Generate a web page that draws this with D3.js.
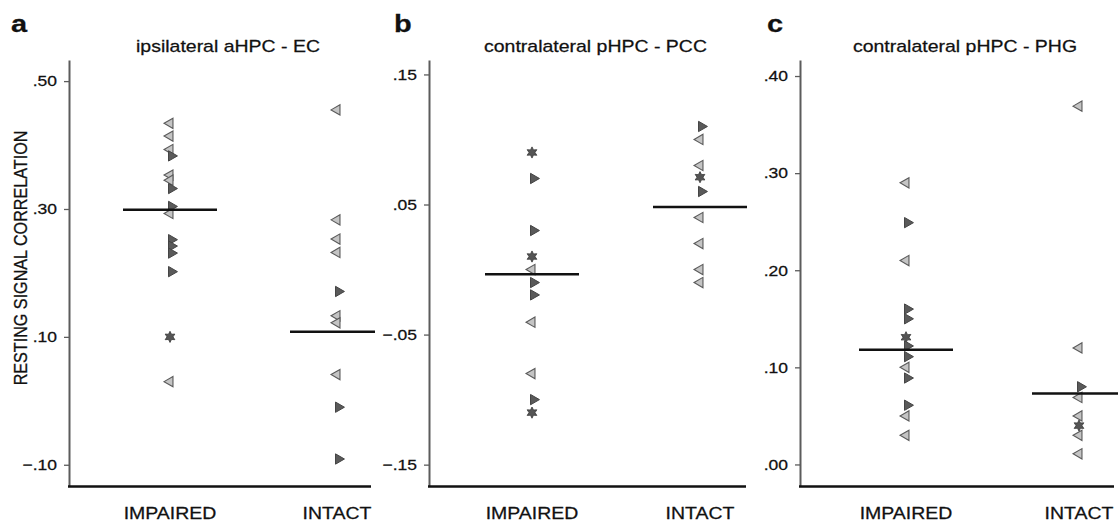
<!DOCTYPE html>
<html><head><meta charset="utf-8">
<script src="https://cdn.jsdelivr.net/npm/d3@7/dist/d3.min.js"></script>
<style>
html,body{margin:0;padding:0;background:#fff;}
svg{display:block;font-family:"Liberation Sans",Arial,Helvetica,sans-serif;}
svg text{stroke:#111;stroke-width:0.3px;fill:#111;}
</style></head>
<body>
<svg id="chart" width="1118" height="525"></svg>
<script>
// ---------- DATA ----------
const categories = ["IMPAIRED", "INTACT"];
const panelLetters = ["a", "b", "c"];
const panelTitles = ["ipsilateral aHPC - EC", "contralateral pHPC - PCC", "contralateral pHPC - PHG"];
const yAxisLabel = "RESTING SIGNAL CORRELATION";

// y domains (axis extent) per panel
const yDomainA = [-0.134, 0.533];
const yDomainB = [-0.1668, 0.1611];
const yDomainC = [-0.0227, 0.4165];

// tick values and labels
const tickValuesA = [-0.10, 0.10, 0.30, 0.50];
const tickLabelsA = ["\u2212.10", ".10", ".30", ".50"];
const tickValuesB = [-0.15, -0.05, 0.05, 0.15];
const tickLabelsB = ["\u2212.15", "\u2212.05", ".05", ".15"];
const tickValuesC = [0.00, 0.10, 0.20, 0.30, 0.40];
const tickLabelsC = [".00", ".10", ".20", ".30", ".40"];

// marker shapes: L = light left triangle, R = dark right triangle, S = dark star
// Panel a
const aImpairedValues = [0.434, 0.414, 0.393, 0.383, 0.353, 0.345, 0.332, 0.304, 0.293, 0.252, 0.242, 0.231, 0.202, 0.100, 0.030];
const aImpairedShapes = ["L", "L", "L", "R", "L", "L", "R", "R", "L", "R", "R", "R", "R", "S", "L"];
const aIntactValues = [0.455, 0.283, 0.253, 0.232, 0.171, 0.133, 0.122, 0.041, -0.010, -0.091];
const aIntactShapes = ["L", "L", "L", "L", "R", "L", "L", "L", "R", "R"];
const aGroupLines = [0.299, 0.108];
// Panel b
const bImpairedValues = [0.090, 0.070, 0.030, 0.010, 0.000, -0.010, -0.0195, -0.0405, -0.080, -0.100, -0.110];
const bImpairedShapes = ["S", "R", "R", "S", "L", "R", "R", "L", "L", "R", "S"];
const bIntactValues = [0.110, 0.100, 0.080, 0.071, 0.060, 0.040, 0.020, 0.000, -0.010];
const bIntactShapes = ["R", "L", "L", "S", "R", "L", "L", "L", "L"];
const bGroupLines = [-0.0036, 0.048];
// Panel c
const cImpairedValues = [0.290, 0.249, 0.210, 0.160, 0.150, 0.131, 0.122, 0.111, 0.100, 0.089, 0.061, 0.050, 0.030];
const cImpairedShapes = ["L", "R", "L", "R", "R", "S", "R", "R", "L", "R", "R", "L", "L"];
const cIntactValues = [0.369, 0.120, 0.080, 0.069, 0.050, 0.040, 0.030, 0.011];
const cIntactShapes = ["L", "L", "R", "L", "L", "S", "L", "L"];
const cGroupLines = [0.118, 0.073];

// ---------- BUILD ----------
const panels = [
  {letter: panelLetters[0], title: panelTitles[0], domain: yDomainA, ticks: tickValuesA, tickLabels: tickLabelsA,
   groups: [{v: aImpairedValues, s: aImpairedShapes}, {v: aIntactValues, s: aIntactShapes}], lines: aGroupLines,
   x0: 69, x1: 371, cats: [170, 337], letterX: 11, ylabel: true},
  {letter: panelLetters[1], title: panelTitles[1], domain: yDomainB, ticks: tickValuesB, tickLabels: tickLabelsB,
   groups: [{v: bImpairedValues, s: bImpairedShapes}, {v: bIntactValues, s: bIntactShapes}], lines: bGroupLines,
   x0: 429, x1: 746, cats: [532, 700], letterX: 394, ylabel: false},
  {letter: panelLetters[2], title: panelTitles[2], domain: yDomainC, ticks: tickValuesC, tickLabels: tickLabelsC,
   groups: [{v: cImpairedValues, s: cImpairedShapes}, {v: cIntactValues, s: cIntactShapes}], lines: cGroupLines,
   x0: 800, x1: 1114, cats: [906, 1079], letterX: 767, ylabel: false}
];

const svg = d3.select("#chart");
const yTop = 60, yBottom = 486.5;
const SQ = 0.85; // vertical text squash seen in the reference

function starPath(r1, r2, n) {
  const p = d3.path();
  for (let i = 0; i < 2 * n; i++) {
    const r = i % 2 === 0 ? r1 : r2;
    const a = -Math.PI / 2 + i * Math.PI / n;
    const x = r * Math.cos(a), y = r * Math.sin(a);
    if (i === 0) p.moveTo(x, y); else p.lineTo(x, y);
  }
  p.closePath();
  return p.toString();
}
const triPath = d3.symbol().type(d3.symbolTriangle).size(46)();
const starD = starPath(5.6, 3.0, 6);

panels.forEach(P => {
  const g = svg.append("g");
  const y = d3.scaleLinear().domain(P.domain).range([yBottom, yTop]);
  const x = d3.scalePoint().domain(categories).range(P.cats);

  // panel letter
  g.append("text")
    .attr("transform", `translate(${P.letterX},32) scale(1,${SQ})`)
    .attr("font-size", 29).attr("font-weight", "bold")
    .text(P.letter);

  // title
  g.append("text")
    .attr("transform", `translate(${(P.x0 + P.x1) / 2 + 8},52) scale(1,${SQ})`)
    .attr("text-anchor", "middle").attr("font-size", 19.5)
    .text(P.title);

  // y axis
  const ax = d3.axisLeft(y).tickValues(P.ticks)
    .tickFormat((d, i) => P.tickLabels[i]).tickSize(5).tickSizeOuter(0).tickPadding(7);
  const axG = g.append("g").attr("transform", `translate(${P.x0},0)`).call(ax);
  axG.select(".domain").attr("stroke", "#5c5c5c").attr("stroke-width", 2);
  axG.selectAll(".tick line").attr("stroke", "#5c5c5c").attr("stroke-width", 1.3);
  axG.selectAll(".tick text")
    .attr("font-size", 17.5).attr("font-family", "Liberation Sans, Arial, sans-serif")
    .attr("transform", `scale(1,${SQ})`);

  // x axis baseline
  g.append("line").attr("x1", P.x0 - 1).attr("x2", P.x1)
    .attr("y1", yBottom).attr("y2", yBottom)
    .attr("stroke", "#111").attr("stroke-width", 2.6);

  // category labels
  categories.forEach(c => {
    g.append("text")
      .attr("transform", `translate(${x(c)},519) scale(1,${SQ})`)
      .attr("text-anchor", "middle").attr("font-size", 19.5)
      .text(c);
  });

  // points
  P.groups.forEach((grp, gi) => {
    const cx = x(categories[gi]);
    grp.v.forEach((v, i) => {
      const s = grp.s[i];
      const cy = y(v);
      if (s === "L") {
        g.append("path").attr("d", triPath)
          .attr("transform", `translate(${cx},${cy}) rotate(-90)`)
          .attr("fill", "#c4c4c4").attr("stroke", "#5a5a5a").attr("stroke-width", 1.1);
      } else if (s === "R") {
        g.append("path").attr("d", triPath)
          .attr("transform", `translate(${cx + 1.5},${cy}) rotate(90)`)
          .attr("fill", "#5a5a5a").attr("stroke", "#444").attr("stroke-width", 1);
      } else {
        g.append("path").attr("d", starD)
          .attr("transform", `translate(${cx},${cy})`)
          .attr("fill", "#555").attr("stroke", "#3a3a3a").attr("stroke-width", 0.8);
      }
    });
  });

  // group lines
  P.lines.forEach((v, gi) => {
    const cx = x(categories[gi]);
    g.append("line")
      .attr("x1", cx - 47).attr("x2", Math.min(cx + 47, P.x1 + 4))
      .attr("y1", y(v)).attr("y2", y(v))
      .attr("stroke", "#111").attr("stroke-width", 2.5);
  });

  // y-axis label
  if (P.ylabel) {
    g.append("text")
      .attr("transform", `translate(27,258) scale(1,${SQ}) rotate(-90)`)
      .attr("text-anchor", "middle").attr("font-size", 19)
      .text(yAxisLabel);
  }
});
</script>
</body></html>
